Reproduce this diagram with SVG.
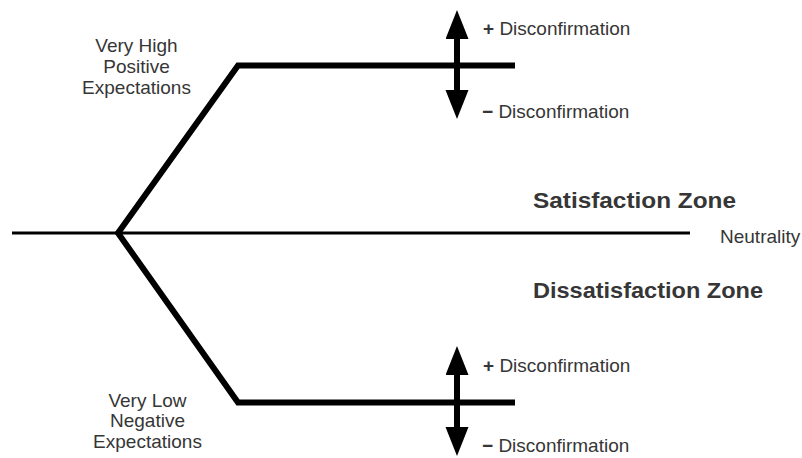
<svg xmlns="http://www.w3.org/2000/svg" width="802" height="458" viewBox="0 0 802 458">
<style>
text{font-family:"Liberation Sans",Arial,sans-serif;fill:#363636;font-size:19px}
.zone{font-weight:bold;font-size:22px}
.mid{text-anchor:middle}
.thick{fill:none;stroke:#000;stroke-width:6;stroke-linejoin:miter}
.thin{fill:none;stroke:#000;stroke-width:3}
.arr{fill:none;stroke:#000;stroke-width:6;marker-start:url(#ah);marker-end:url(#ah)}
</style>
<defs>
<marker id="ah" markerUnits="userSpaceOnUse" markerWidth="30" markerHeight="24" refX="0" refY="11.5" orient="auto-start-reverse" viewBox="0 0 30 24">
<path d="M0,0 L29,11.5 L0,23 z" fill="#000"/>
</marker>
</defs>
<g id="connectors">
<path class="thin" d="M12 233 H690"/>
<path class="thick" d="M515 65.5 H238 L118 233 L238 402.5 H515"/>
<path class="arr" d="M457 90 V39"/>
<path class="arr" d="M457 427 V375"/>
</g>
<g id="high-expectations">
<text class="mid" x="136.5" y="51.7">Very High</text>
<text class="mid" x="136.5" y="73">Positive</text>
<text class="mid" x="136.5" y="94">Expectations</text>
</g>
<g id="low-expectations">
<text class="mid" x="147.5" y="406.7">Very Low</text>
<text class="mid" x="147.5" y="427.3">Negative</text>
<text class="mid" x="147.5" y="448.3">Expectations</text>
</g>
<g id="upper-disconfirmation">
<text x="483" y="35"><tspan font-weight="bold">+</tspan> Disconfirmation</text>
<text x="482" y="118"><tspan font-weight="bold">−</tspan> Disconfirmation</text>
</g>
<g id="lower-disconfirmation">
<text x="483" y="372"><tspan font-weight="bold">+</tspan> Disconfirmation</text>
<text x="482" y="452"><tspan font-weight="bold">−</tspan> Disconfirmation</text>
</g>
<g id="satisfaction-zone"><text class="zone" x="533" y="207.7" textLength="203" lengthAdjust="spacingAndGlyphs">Satisfaction Zone</text></g>
<g id="neutrality"><text x="720" y="243">Neutrality</text></g>
<g id="dissatisfaction-zone"><text class="zone" x="533" y="297.5" textLength="230" lengthAdjust="spacingAndGlyphs">Dissatisfaction Zone</text></g>
</svg>
